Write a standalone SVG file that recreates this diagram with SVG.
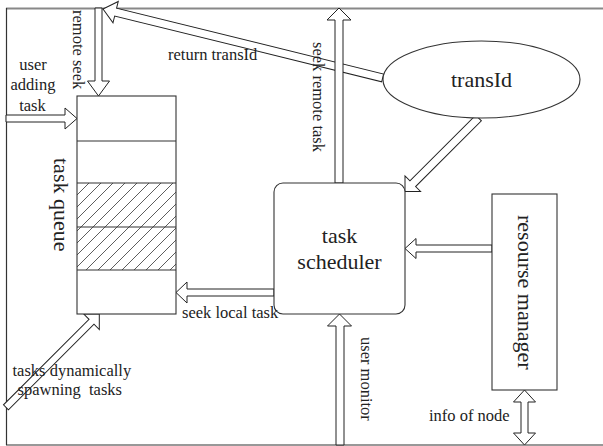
<svg xmlns="http://www.w3.org/2000/svg" width="603" height="446" viewBox="0 0 603 446">
  <defs>
    <style>
      .frame { fill: none; stroke: #333; stroke-width: 1.2; }
      .frame-top { fill: none; stroke: #888; stroke-width: 2; }
      .box { fill: #fff; stroke: #333; stroke-width: 1.1; }
      .row { fill: none; stroke: #333; stroke-width: 1.1; }
      .arrow { fill: #fff; stroke: #222; stroke-width: 1; stroke-linejoin: miter; }
      .lbl { font-family: "Liberation Serif", "Times New Roman", serif; font-size: 16.5px; fill: #222; }
      .big { font-family: "Liberation Serif", "Times New Roman", serif; font-size: 22px; fill: #222; }
      .mid { text-anchor: middle; }
    </style>
    <pattern id="hatch" patternUnits="userSpaceOnUse" width="12" height="12" x="77" y="183">
      <path d="M-3,3 L3,-3 M0,12 L12,0 M9,15 L15,9" stroke="#333" stroke-width="0.8" fill="none"/>
    </pattern>
  </defs>

  <!-- outer frame -->
  <g id="frame">
    <line class="frame-top" x1="6" y1="8.5" x2="603" y2="8.5"/>
    <line class="frame" x1="6.5" y1="8" x2="6.5" y2="445"/>
    <line class="frame" x1="6" y1="445" x2="603" y2="445"/>
  </g>

  <!-- connectors: hollow block arrows -->
  <g id="connectors">
    <!-- remote seek: down into the queue -->
    <polygon class="arrow" points="95,8 102,8 102,81 109.5,81 98.5,96 87.5,81 95,81"/>
    <!-- user adding task: right into the queue -->
    <polygon class="arrow" points="6,115 65,115 65,108 77,118.5 65,129 65,122 6,122"/>
    <!-- return transId: from ellipse up-left -->
    <g transform="translate(103,9) rotate(13.84)">
      <polygon class="arrow" points="0,0 13,-11 13,-4 288,-4 288,4 13,4 13,11"/>
    </g>
    <!-- transId to scheduler -->
    <g transform="translate(405,191.5) rotate(-45)">
      <polygon class="arrow" points="0,0 11,-11 11,-4 104,-4 104,4 11,4 11,11"/>
    </g>
    <!-- seek remote task: up from scheduler -->
    <polygon class="arrow" points="335,183 335,20 327,20 339,8 351,20 343,20 343,183"/>
    <!-- resource manager to scheduler -->
    <polygon class="arrow" points="492,245 416,245 416,238.5 405,248.5 416,258.5 416,252 492,252"/>
    <!-- seek local task: scheduler to queue -->
    <polygon class="arrow" points="274,289 187,289 187,282 176,292.5 187,303 187,296 274,296"/>
    <!-- user monitor: up into scheduler -->
    <polygon class="arrow" points="336,445 336,326 327.5,326 339.5,314 351.5,326 344,326 344,445"/>
    <!-- info of node: double-headed -->
    <polygon class="arrow" points="524.5,390 535.5,402 528,402 528,433 535.5,433 524.5,445 513.5,433 521,433 521,402 513.5,402"/>
    <!-- tasks dynamically spawning tasks -->
    <g transform="translate(99.3,314) rotate(135)">
      <polygon class="arrow" points="0,0 11,-11 11,-3.5 132,-3.5 132,3.5 11,3.5 11,11"/>
    </g>
  </g>

  <!-- task queue -->
  <g id="task-queue">
    <rect class="box" x="77" y="96" width="99" height="218"/>
    <rect x="77" y="183" width="99" height="87" fill="url(#hatch)"/>
    <line class="row" x1="77" y1="141" x2="176" y2="141"/>
    <line class="row" x1="77" y1="183" x2="176" y2="183"/>
    <line class="row" x1="77" y1="227" x2="176" y2="227"/>
    <line class="row" x1="77" y1="270" x2="176" y2="270"/>
    <text class="big" transform="translate(54,158) rotate(90)">task queue</text>
  </g>

  <!-- transId -->
  <g id="transid">
    <ellipse class="box" cx="481.5" cy="79.5" rx="98.5" ry="38.5"/>
    <text class="big mid" x="481.5" y="86.5">transId</text>
  </g>

  <!-- task scheduler -->
  <g id="task-scheduler">
    <rect class="box" x="274" y="183" width="131" height="131" rx="9" ry="9"/>
    <text class="big mid" x="339.5" y="242.5">task</text>
    <text class="big mid" x="339.5" y="269">scheduler</text>
  </g>

  <!-- resource manager -->
  <g id="resource-manager">
    <rect class="box" x="492" y="194" width="65" height="196"/>
    <text class="big" transform="translate(518,215) rotate(90)">resourse manager</text>
  </g>

  <!-- connector labels -->
  <g id="labels">
    <text class="lbl" transform="translate(73,10) rotate(90)">remote seek</text>
    <text class="lbl mid" x="33" y="70">user</text>
    <text class="lbl mid" x="33" y="89.5">adding</text>
    <text class="lbl mid" x="32.5" y="110.5">task</text>
    <text class="lbl" x="168" y="60">return transId</text>
    <text class="lbl" transform="translate(313,42) rotate(90)">seek remote task</text>
    <text class="lbl" x="182" y="318">seek local task</text>
    <text class="lbl" transform="translate(361,337) rotate(90)">user monitor</text>
    <text class="lbl" x="429" y="421">info of node</text>
    <text class="lbl" x="12.5" y="375.5">tasks dynamically</text>
    <text class="lbl" x="17.5" y="394.5" xml:space="preserve">spawning  tasks</text>
  </g>
</svg>
